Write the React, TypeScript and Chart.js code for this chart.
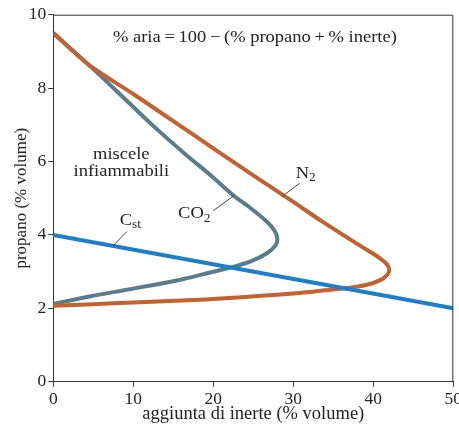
import React, { useEffect, useRef } from 'react';
import { Chart, registerables } from 'chart.js';

Chart.register(...registerables);

// Data
const co2X = [0, 4.4, 8.5, 12.6, 16.5, 19.8, 22.6, 24.6, 26.7, 27.7, 28.0, 27.8, 26.7, 24.6, 22.5, 19.5, 16.3, 12.1, 8.5, 4.5, 0];
const co2Y = [9.5, 8.64, 7.8, 6.95, 6.2, 5.6, 5.06, 4.74, 4.36, 4.1, 3.9, 3.72, 3.5, 3.27, 3.13, 2.97, 2.8, 2.62, 2.48, 2.32, 2.12];

const n2X = [0, 4.4, 10, 15, 20, 25, 30, 33.5, 36.5, 39, 40.8, 41.7, 42.0, 41.7, 40.8, 39.2, 37.1, 34, 30.8, 26, 22, 16, 10, 5, 0];
const n2Y = [9.5, 8.64, 7.84, 7.1, 6.36, 5.62, 4.9, 4.38, 3.96, 3.62, 3.37, 3.2, 3.05, 2.9, 2.76, 2.64, 2.56, 2.49, 2.42, 2.34, 2.28, 2.21, 2.16, 2.11, 2.07];

const cstX = [0, 50];
const cstY = [4, 2];

const xTicks = [0, 10, 20, 30, 40, 50];
const yTicks = [0, 2, 4, 6, 8, 10];

const xTitle = 'aggiunta di inerte (% volume)';
const yTitle = 'propano (% volume)';
const noteText = '% aria\u2009=\u2009100\u2009\u2212\u2009(% propano\u2009+\u2009% inerte)';

const FONT = '"Liberation Serif", "Times New Roman", serif';
const TEXT = '#222';
const AXIS = '#333';
const SX = 1.12; // horizontal stretch of the reference lettering

const toPts = (xs: number[], ys: number[]) => xs.map((x, i) => ({ x, y: ys[i] }));

const annotPlugin = {
  id: 'annot',
  afterDatasetsDraw(chart: any) {
    const { ctx, chartArea, scales } = chart;
    const sx = scales.x, sy = scales.y;
    const px = (v: number) => sx.getPixelForValue(v);
    const py = (v: number) => sy.getPixelForValue(v);
    ctx.save();
    // frame top and right
    ctx.strokeStyle = AXIS;
    ctx.lineWidth = 1;
    ctx.beginPath();
    ctx.moveTo(chartArea.left, chartArea.top + 0.5);
    ctx.lineTo(chartArea.right - 0.5, chartArea.top + 0.5);
    ctx.lineTo(chartArea.right - 0.5, chartArea.bottom);
    ctx.stroke();

    ctx.fillStyle = TEXT;
    ctx.textBaseline = 'middle';

    const text = (t: string, x: number, y: number, size: number, align: 'left' | 'center') => {
      ctx.save();
      ctx.font = `${size}px ${FONT}`;
      ctx.textAlign = align;
      ctx.translate(x, y);
      ctx.scale(SX, 1);
      ctx.fillText(t, 0, 0);
      const w = ctx.measureText(t).width * SX;
      ctx.restore();
      return w;
    };

    text(noteText, px(25.2), py(9.37), 16.5, 'center');
    text('miscele', px(8.5), py(6.18), 16.5, 'center');
    text('infiammabili', px(8.5), py(5.71), 16.5, 'center');

    const sub = (main: string, s: string, x: number, y: number) => {
      const w = text(main, x, y, 16.5, 'left');
      text(s, x + w, y + 5, 12, 'left');
    };
    sub('C', 'st', px(8.3), py(4.4));
    sub('CO', '2', px(15.6), py(4.57));
    sub('N', '2', px(30.3), py(5.68));

    // leader lines
    ctx.strokeStyle = '#444';
    ctx.lineWidth = 1;
    const lead = (x1: number, y1: number, x2: number, y2: number) => {
      ctx.beginPath();
      ctx.moveTo(px(x1), py(y1));
      ctx.lineTo(px(x2), py(y2));
      ctx.stroke();
    };
    lead(7.46, 3.7, 9.18, 4.09);
    lead(20.0, 4.66, 22.7, 5.09);
    lead(28.55, 5.04, 30.8, 5.41);
    ctx.restore();
  },
};

export default function App() {
  const ref = useRef<HTMLCanvasElement | null>(null);
  useEffect(() => {
    if (!ref.current) return;
    const common = { showLine: true, pointRadius: 0, borderWidth: 4, fill: false, tension: 0.3 };
    const chart = new Chart(ref.current, {
      type: 'scatter',
      data: {
        datasets: [
          { ...common, label: 'Cst', data: toPts(cstX, cstY), borderColor: '#1C80C9', tension: 0 },
          { ...common, label: 'N2', data: toPts(n2X, n2Y), borderColor: '#C3612F' },
          { ...common, label: 'CO2', data: toPts(co2X, co2Y), borderColor: '#5A7D8C' },
        ],
      },
      options: {
        responsive: false,
        animation: false,
        layout: { padding: { top: 14.7, right: 5.7, left: 0, bottom: 0 } },
        plugins: { legend: { display: false }, tooltip: { enabled: false } },
        scales: {
          x: {
            type: 'linear',
            min: 0,
            max: 50,
            afterBuildTicks: (s: any) => { s.ticks = xTicks.map((v) => ({ value: v })); },
            afterFit: (s: any) => { s.height = 46.3; s.paddingLeft = 0; s.paddingRight = 0; },
            grid: { drawOnChartArea: false, drawTicks: true, tickLength: 5, color: AXIS },
            border: { color: AXIS, width: 1 },
            ticks: { color: TEXT, font: { family: FONT, size: 17.5 }, padding: 2, maxRotation: 0 },
            title: { display: true, text: xTitle, color: TEXT, font: { family: FONT, size: 18.5 }, padding: { top: 0, bottom: 2.5 } },
          },
          y: {
            type: 'linear',
            min: 0,
            max: 10,
            afterBuildTicks: (s: any) => { s.ticks = yTicks.map((v) => ({ value: v })); },
            afterFit: (s: any) => { s.width = 53.3; s.paddingTop = 0; s.paddingBottom = 0; },
            grid: { drawOnChartArea: false, drawTicks: true, tickLength: 5, color: AXIS },
            border: { color: AXIS, width: 1 },
            ticks: { color: TEXT, font: { family: FONT, size: 17.5 }, padding: 2 },
            title: { display: true, text: yTitle, color: TEXT, font: { family: FONT, size: 17 }, padding: { top: 11, bottom: 0 } },
          },
        },
      },
      plugins: [annotPlugin],
    });
    return () => chart.destroy();
  }, []);
  return (
    <div style={{ position: 'absolute', left: 0, top: 0, width: 459, height: 428, background: '#fff' }}>
      <canvas ref={ref} width={459} height={428} style={{ width: 459, height: 428, display: 'block' }} />
    </div>
  );
}
